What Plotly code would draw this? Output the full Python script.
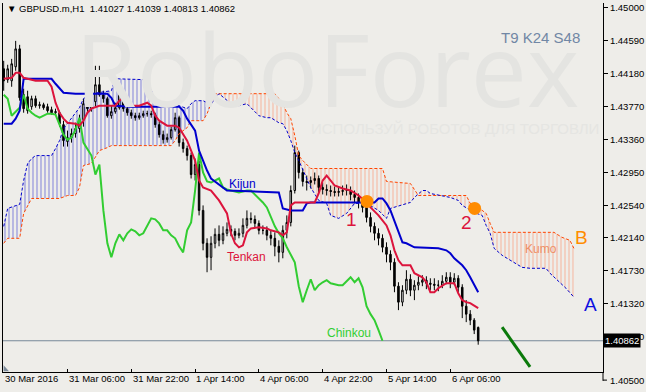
import plotly.graph_objects as go

# ---------------- data ----------------
closes_head = [1.44087, 1.44236, 1.44298, 1.44483, 1.43877, 1.43741, 1.43716, 1.43865, 1.43778, 1.43790,
               1.43753, 1.43716, 1.43691, 1.43704, 1.43555, 1.43345, 1.43382, 1.43432, 1.43494, 1.43605,
               1.43803, 1.43741, 1.43828, 1.44038]
closes_tail = [1.43914, 1.43865, 1.43654, 1.43704, 1.43753, 1.43914, 1.43741, 1.43691, 1.43654, 1.43629,
               1.43654, 1.43679, 1.43679, 1.43667, 1.43543, 1.43419, 1.43357, 1.43382, 1.43481, 1.43629,
               1.43320, 1.43246, 1.43159, 1.42924, 1.43048, 1.42479, 1.42071, 1.41897, 1.42071, 1.42182,
               1.42108, 1.42195, 1.42244, 1.42219, 1.42170, 1.42195, 1.42294, 1.42380, 1.42368, 1.42318,
               1.42232, 1.42232, 1.42170, 1.42133, 1.42034, 1.41959, 1.42232, 1.42330, 1.42726, 1.43196,
               1.42949, 1.42838, 1.42825, 1.42850, 1.42875, 1.42764, 1.42739, 1.42726, 1.42714, 1.42702,
               1.42714, 1.42726, 1.42726, 1.42677, 1.42640, 1.42578, 1.42516, 1.42392, 1.42281, 1.42195,
               1.42133, 1.42022, 1.41935, 1.41836, 1.41539, 1.41341, 1.41489, 1.41625, 1.41489, 1.41551,
               1.41588, 1.41613, 1.41576, 1.41563, 1.41551, 1.41551, 1.41600, 1.41650, 1.41588, 1.41637,
               1.41526, 1.41291, 1.41192, 1.41118, 1.40994, 1.40862]
opens_head = [1.44236, 1.44100, 1.44087, 1.44261, 1.44483, 1.43915, 1.43889, 1.43766, 1.43865, 1.43778,
              1.43790, 1.43766, 1.43728, 1.43691, 1.43691, 1.43543, 1.43333, 1.43382, 1.43432, 1.43494,
              1.43605, 1.43803, 1.43741, 1.43828, 1.44038]
last_open = 1.41027
highs = [1.44335, 1.44286, 1.44359, 1.44582, 1.44533, 1.43989, 1.43964, 1.43902, 1.43902, 1.43828,
         1.43815, 1.43803, 1.43766, 1.43741, 1.43716, 1.43592, 1.43469, 1.43494, 1.43567, 1.43667,
         1.43865, 1.43865, 1.43889, 1.44273,
         1.44273, 1.43964, 1.43890, 1.43778, 1.43815, 1.43988, 1.43939, 1.43778, 1.43729, 1.43691,
         1.43691, 1.43716, 1.43716, 1.43716, 1.43691, 1.43580, 1.43469, 1.43432, 1.43518, 1.43691,
         1.43654, 1.43370, 1.43283, 1.43196, 1.43122, 1.43098, 1.42541, 1.42133, 1.42158, 1.42256,
         1.42293, 1.42281, 1.42330, 1.42293, 1.42256, 1.42256, 1.42380, 1.42479, 1.42454, 1.42417,
         1.42355, 1.42293, 1.42281, 1.42232, 1.42207, 1.42108, 1.42293, 1.42417, 1.42788, 1.43283,
         1.43221, 1.42999, 1.42912, 1.42900, 1.42949, 1.42912, 1.42825, 1.42801, 1.42788, 1.42776,
         1.42776, 1.42788, 1.42801, 1.42776, 1.42726, 1.42689, 1.42627, 1.42603, 1.42454, 1.42330,
         1.42256, 1.42182, 1.42083, 1.41984, 1.41885, 1.41588, 1.41551, 1.41737, 1.41687, 1.41613,
         1.41662, 1.41675, 1.41662, 1.41637, 1.41637, 1.41613, 1.41675, 1.41712, 1.41712, 1.41700,
         1.41675, 1.41563, 1.41366, 1.41242, 1.41143, 1.41039]
lows = [1.43964, 1.44062, 1.44013, 1.44211, 1.43840, 1.43691, 1.43679, 1.43728, 1.43753, 1.43741,
        1.43728, 1.43691, 1.43667, 1.43654, 1.43518, 1.43271, 1.43271, 1.43320, 1.43382, 1.43444,
        1.43518, 1.43679, 1.43704, 1.43766,
        1.43890, 1.43815, 1.43629, 1.43617, 1.43679, 1.43729, 1.43704, 1.43654, 1.43617, 1.43592,
        1.43605, 1.43629, 1.43642, 1.43629, 1.43505, 1.43382, 1.43308, 1.43320, 1.43358, 1.43457,
        1.43271, 1.43196, 1.43098, 1.42875, 1.42850, 1.42417, 1.41984, 1.41712, 1.41737, 1.42009,
        1.42034, 1.42059, 1.42158, 1.42158, 1.42108, 1.42133, 1.42145, 1.42256, 1.42318, 1.42268,
        1.42182, 1.42182, 1.42108, 1.42046, 1.41910, 1.41835, 1.41885, 1.42133, 1.42281, 1.42689,
        1.42875, 1.42776, 1.42726, 1.42751, 1.42801, 1.42701, 1.42677, 1.42664, 1.42652, 1.42652,
        1.42652, 1.42664, 1.42664, 1.42603, 1.42566, 1.42504, 1.42454, 1.42330, 1.42207, 1.42108,
        1.42046, 1.41959, 1.41835, 1.41737, 1.41464, 1.41242, 1.41291, 1.41440, 1.41415, 1.41366,
        1.41489, 1.41539, 1.41502, 1.41489, 1.41489, 1.41477, 1.41514, 1.41563, 1.41514, 1.41551,
        1.41464, 1.41143, 1.41093, 1.41056, 1.40945, 1.40813]

tenkan_x = [0, 2, 3, 4, 5, 8, 11, 12, 13, 14, 15, 16, 18, 19, 20, 21, 22, 24, 28, 29,
            30, 31, 32, 34, 36, 37, 38, 39, 41, 43, 44, 45, 46, 47, 48, 49, 50, 52, 54, 56,
            57, 58, 59, 60, 61, 62, 64, 66, 67, 69, 70, 71, 72, 73, 78, 79, 80, 81, 83, 85,
            87, 89, 91, 92, 94, 96, 97, 98, 99, 100, 102, 103, 105, 106, 107, 108, 109, 111, 113, 114,
            115, 116, 117, 119]
tenkan_y = [1.44112, 1.44124, 1.44186, 1.44186, 1.44124, 1.44087, 1.44087, 1.44013, 1.43815, 1.43691,
            1.43617, 1.43567, 1.43555, 1.43530, 1.43592, 1.43691, 1.43741, 1.43778, 1.43778, 1.43840,
            1.43877, 1.43865, 1.43778, 1.43778, 1.43815, 1.43778, 1.43654, 1.43592, 1.43530, 1.43530,
            1.43505, 1.43432, 1.43345, 1.43221, 1.43098, 1.42850, 1.42763, 1.42726, 1.42603, 1.42442,
            1.42195, 1.42071, 1.42021, 1.42046, 1.42207, 1.42256, 1.42269, 1.42256, 1.42232, 1.42207,
            1.42170, 1.42207, 1.42541, 1.42578, 1.42578, 1.42689, 1.42850, 1.42912, 1.42788, 1.42751,
            1.42726, 1.42664, 1.42578, 1.42516, 1.42417, 1.42293, 1.42170, 1.41984, 1.41860, 1.41798,
            1.41798, 1.41700, 1.41650, 1.41588, 1.41464, 1.41464, 1.41514, 1.41576, 1.41576, 1.41452,
            1.41366, 1.41341, 1.41329, 1.41267]

kijun_x = [0, 2, 3, 4, 5, 12, 13, 15, 18, 26, 27, 28, 32, 44, 45, 46, 48, 49, 50, 51,
           52, 55, 56, 69, 70, 72, 75, 76, 77, 93, 94, 95, 96, 97, 98, 99, 100, 101, 103, 109,
           111, 112, 113, 115, 116, 117, 118, 119]
kijun_y = [1.43555, 1.43555, 1.43617, 1.43716, 1.44112, 1.44112, 1.44050, 1.43939, 1.43927, 1.43927,
           1.43877, 1.43778, 1.43766, 1.43766, 1.43716, 1.43617, 1.43469, 1.43221, 1.43098, 1.42974,
           1.42875, 1.42763, 1.42726, 1.42702, 1.42504, 1.42479, 1.42479, 1.42566, 1.42578, 1.42578,
           1.42627, 1.42627, 1.42566, 1.42479, 1.42355, 1.42207, 1.42083, 1.42071, 1.42021, 1.42009,
           1.41984, 1.41947, 1.41885, 1.41798, 1.41737, 1.41650, 1.41551, 1.41464]

span_a_x = [0, 1, 4, 5, 6, 7, 8, 12, 13, 14, 15, 19, 20, 22, 27, 28, 36, 37, 38, 44,
            46, 47, 48, 50, 52, 53, 54, 57, 59, 61, 62, 64, 66, 67, 69, 70, 71, 72, 73, 74,
            77, 79, 81, 82, 84, 86, 88, 91, 94, 96, 97, 102, 103, 105, 106, 107, 112, 114, 115, 117,
            118, 120, 121, 122, 123, 125, 127, 130, 132, 136, 137, 139, 141, 143]
span_a_y = [1.42281, 1.42504, 1.42554, 1.42850, 1.43061, 1.43122, 1.43159, 1.43159, 1.43246, 1.43345,
            1.43494, 1.43753, 1.43865, 1.43927, 1.43964, 1.44112, 1.44100, 1.43964, 1.43840, 1.43778,
            1.43741, 1.43803, 1.43840, 1.43840, 1.43790, 1.43877, 1.43927, 1.43803, 1.43778, 1.43803,
            1.43753, 1.43654, 1.43629, 1.43629, 1.43567, 1.43555, 1.43469, 1.43345, 1.43196, 1.43098,
            1.42763, 1.42603, 1.42566, 1.42417, 1.42380, 1.42442, 1.42566, 1.42566, 1.42479, 1.42380,
            1.42504, 1.42578, 1.42640, 1.42726, 1.42726, 1.42689, 1.42640, 1.42603, 1.42541, 1.42479,
            1.42454, 1.42417, 1.42293, 1.42195, 1.42009, 1.41922, 1.41860, 1.41773, 1.41761, 1.41761,
            1.41700, 1.41613, 1.41514, 1.41403]

span_b_x = [0, 1, 4, 5, 7, 14, 16, 18, 19, 20, 22, 24, 26, 27, 42, 43, 44, 46, 47, 50,
            51, 52, 53, 68, 70, 71, 72, 73, 74, 75, 77, 95, 96, 102, 104, 116, 117, 119, 121, 122,
            123, 138, 140, 142, 143]
span_b_y = [1.42071, 1.42133, 1.42133, 1.42442, 1.42627, 1.42627, 1.42664, 1.42664, 1.42763, 1.43036,
            1.43061, 1.43221, 1.43258, 1.43283, 1.43283, 1.43345, 1.43432, 1.43505, 1.43592, 1.43592,
            1.43679, 1.43803, 1.43927, 1.43927, 1.43803, 1.43691, 1.43617, 1.43407, 1.43159, 1.43098,
            1.42999, 1.42999, 1.42838, 1.42813, 1.42664, 1.42664, 1.42566, 1.42516, 1.42442, 1.42318,
            1.42207, 1.42207, 1.42145, 1.42108, 1.42009]

kumo_switch = 52          # bar where the cloud changes colour
chinkou_shift = 24
cross_x = [91.1, 118.1]
cross_y = [1.42590, 1.42504]
trend_x = [125, 132]
trend_y = [1.41031, 1.40537]
price_ticks = [1.45, 1.4459, 1.4418, 1.4377, 1.4336, 1.4295, 1.4254, 1.4214, 1.4173, 1.4132, 1.4091]
time_ticks = [0, 16, 32, 48, 64, 80, 96, 112]
time_labels = ['30 Mar 2016', '31 Mar 06:00', '31 Mar 22:00', '1 Apr 14:00',
               '4 Apr 06:00', '4 Apr 22:00', '5 Apr 14:00', '6 Apr 06:00']
last_price = 1.40862
bottom_price = 1.40500

# ---------------- derived ----------------
closes = closes_head + closes_tail
opens = opens_head + closes[24:118] + [last_open]
bars = list(range(len(closes)))
chinkou_x = [b - chinkou_shift for b in bars[chinkou_shift:]]
chinkou_y = closes[chinkou_shift:]

BG = '#EEEDE9'
FONT = 'Liberation Sans'


def part(xs, ys, lo, hi):
    px = [x for x in xs if lo <= x <= hi]
    py = [y for x, y in zip(xs, ys) if lo <= x <= hi]
    return px, py


fig = go.Figure()

# kumo hatching
for lo, hi, col in [(0, kumo_switch, 'rgba(20,20,200,0.9)'), (kumo_switch, 200, 'rgba(255,105,55,0.8)')]:
    bx, by = part(span_b_x, span_b_y, lo, hi)
    ax, ay = part(span_a_x, span_a_y, lo, hi)
    fig.add_trace(go.Scatter(x=bx, y=by, mode='lines', line=dict(width=0), hoverinfo='skip'))
    fig.add_trace(go.Scatter(x=ax, y=ay, mode='lines', line=dict(width=0), fill='tonexty',
                             fillcolor='rgba(0,0,0,0)',
                             fillpattern=dict(shape='|', size=4, solidity=0.28, fgcolor=col,
                                              bgcolor='rgba(0,0,0,0)'),
                             hoverinfo='skip'))

fig.add_trace(go.Scatter(x=span_b_x, y=span_b_y, mode='lines',
                         line=dict(color='#FF4500', width=1, dash='3px,2px'), hoverinfo='skip'))
fig.add_trace(go.Scatter(x=span_a_x, y=span_a_y, mode='lines',
                         line=dict(color='#0000CD', width=1, dash='3px,2px'), hoverinfo='skip'))

fig.add_trace(go.Candlestick(x=bars, open=opens, high=highs, low=lows, close=closes,
                             increasing=dict(line=dict(color='black', width=1), fillcolor='white'),
                             decreasing=dict(line=dict(color='black', width=1), fillcolor='black'),
                             whiskerwidth=0, hoverinfo='skip'))

fig.add_trace(go.Scatter(x=chinkou_x, y=chinkou_y, mode='lines',
                         line=dict(color='#32CD32', width=2), hoverinfo='skip'))
fig.add_trace(go.Scatter(x=kijun_x, y=kijun_y, mode='lines',
                         line=dict(color='#0000CD', width=2), hoverinfo='skip'))
fig.add_trace(go.Scatter(x=tenkan_x, y=tenkan_y, mode='lines',
                         line=dict(color='#DC143C', width=2), hoverinfo='skip'))
fig.add_trace(go.Scatter(x=cross_x, y=cross_y, mode='markers',
                         marker=dict(color='#FF8C00', size=13, line=dict(width=0)), hoverinfo='skip'))
fig.add_trace(go.Scatter(x=trend_x, y=trend_y, mode='lines',
                         line=dict(color='#0B7A0B', width=3), hoverinfo='skip'))

ann = []
# watermark
ann.append(dict(text='RoboForex', xref='paper', yref='paper', x=0.54, y=0.825, xanchor='center',
                yanchor='middle', showarrow=False,
                font=dict(family='Open Sans', size=100, color='#E4E4E1')))
ann.append(dict(text='ИСПОЛЬЗУЙ РОБОТОВ ДЛЯ ТОРГОВЛИ', xref='paper', yref='paper', x=0.51, y=0.66,
                xanchor='left', yanchor='middle', showarrow=False,
                font=dict(family=FONT, size=15, color='#E5E5E2')))
# title
ann.append(dict(text='▼\u00a0GBPUSD.m,H1\u00a0\u00a01.41027 1.41039 1.40813 1.40862', xref='paper', yref='paper',
                x=0.003, y=0.985, xanchor='left', yanchor='middle', showarrow=False,
                font=dict(family=FONT, size=9.5, color='black')))
ann.append(dict(text='T9 K24 S48', x=134.6, y=1.44619, showarrow=False,
                font=dict(family=FONT, size=15, color='#7187A5')))
# line labels
for t, x, y, c, s in [('Kijun', 59.8, 1.42801, '#0000CD', 12), ('Tenkan', 60.8, 1.41897, '#DC143C', 12),
                      ('Chinkou', 86.6, 1.40957, '#32CD32', 12), ('Kumo', 134.8, 1.41996, '#EE8F66', 12),
                      ('1', 87.1, 1.42368, '#DC143C', 19), ('2', 116.1, 1.42330, '#DC143C', 19),
                      ('B', 144.8, 1.42145, '#FF8C00', 19), ('A', 147.1, 1.41316, '#1010E0', 19)]:
    ann.append(dict(text=t, x=x, y=y, showarrow=False, font=dict(family=FONT, size=s, color=c)))
# time labels
for b, lab in zip(time_ticks, time_labels):
    ann.append(dict(text=lab, x=b - 0.17, y=-0.018, yref='paper', xanchor='left', yanchor='middle',
                    showarrow=False, font=dict(family=FONT, size=9.5, color='black')))
# bottom price label + current price box
ann.append(dict(text=f'{bottom_price:.5f}', xref='paper', yref='paper', x=1, xshift=5, y=-0.022,
                xanchor='left', yanchor='middle', showarrow=False,
                font=dict(family=FONT, size=9.5, color='black')))
ann.append(dict(text=f'{last_price:.5f}', xref='paper', x=1, y=last_price, xanchor='left', yanchor='middle',
                showarrow=False, bgcolor='black', borderpad=1,
                font=dict(family=FONT, size=9.5, color='white')))

shapes = [
    dict(type='line', xref='paper', x0=0, x1=1, y0=last_price, y1=last_price,
         line=dict(color='#778899', width=1), layer='below'),
    dict(type='line', xref='paper', yref='paper', x0=1, x1=1.0066, y0=-0.022, y1=-0.022,
         line=dict(color='black', width=1)),
    dict(type='line', xref='paper', yref='paper', x0=1, x1=1, y0=0, y1=-0.024,
         line=dict(color='black', width=1)),
    dict(type='path', xref='paper', yref='paper', path='M 0.001 0.018 L 0.001 0.002 L 0.01 0.002 Z',
         fillcolor='#7D8B9B', line=dict(width=0)),
]

fig.update_layout(
    width=646, height=392, margin=dict(l=3, r=41, t=2, b=20),
    paper_bgcolor=BG, plot_bgcolor=BG, showlegend=False, boxgap=0.45,
    annotations=ann, shapes=shapes,
    xaxis=dict(range=[-0.175, 150.3], showgrid=False, zeroline=False, showline=True,
               linecolor='black', linewidth=1, tickvals=time_ticks[1:], ticks='inside', ticklen=3,
               tickcolor='black', showticklabels=False, rangeslider=dict(visible=False)),
    yaxis=dict(side='right', range=[1.404745, 1.45052], showgrid=False, zeroline=False,
               showline=True, mirror=True, linecolor='black', linewidth=1,
               tickvals=price_ticks, ticktext=[f'{v:.5f}' for v in price_ticks],
               ticks='outside', ticklen=4, tickcolor='black',
               tickfont=dict(family=FONT, size=9.5, color='black')),
)

fig.write_html('out.html')
